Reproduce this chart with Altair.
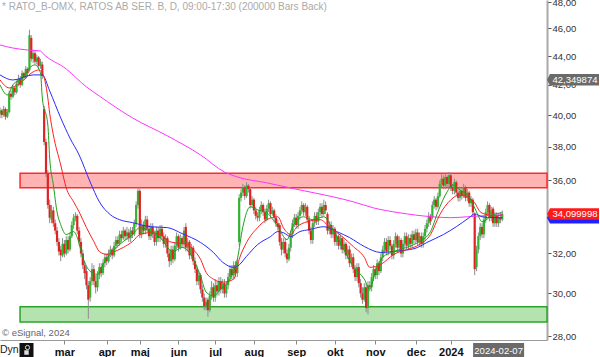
import altair as alt
import pandas as pd

FONT = "Liberation Sans"

# ---------------- data ----------------
title_text = "* RATO_B-OMX, RATOS AB SER. B, D, 09:00-17:30 (200000 Bars Back)"
months = ["mar", "apr", "maj", "jun", "jul", "aug", "sep", "okt", "nov", "dec", "2024"]
month_idx = [35, 58, 76, 97, 117, 138, 161, 182, 204, 226, 245]
y_ticks = [28, 30, 32, 34, 36, 38, 40, 42, 44, 46, 48]

open_ = [40.1, 40.3, 40.0, 40.4, 39.9, 40.2, 41.4, 41.2, 41.8, 41.5,
         42.1, 42.4, 42.0, 42.8, 42.5, 43.1, 43.0, 45.3, 43.8, 44.2,
         43.6, 43.9, 43.3, 43.4, 40.4, 38.3, 36.4, 34.6, 33.8, 34.3,
         33.6, 33.2, 32.6, 32.2, 31.9, 32.5, 32.0, 32.7, 32.2, 32.9,
         33.5, 33.9, 34.0, 33.2, 32.6, 32.0, 31.4, 31.1, 30.4, 29.8,
         30.6, 31.2, 30.6, 30.3, 30.9, 31.3, 31.0, 31.5, 31.8, 31.6,
         32.0, 32.2, 31.9, 32.4, 32.7, 32.5, 33.0, 32.8, 33.2, 32.9,
         33.1, 32.8, 33.2, 33.0, 33.6, 34.6, 35.4, 33.0, 33.5, 33.2,
         33.8, 33.3, 32.9, 33.4, 33.0, 32.6, 33.2, 32.8, 33.3, 32.9,
         32.5, 32.8, 32.0, 31.6, 32.2, 31.7, 32.4, 32.9, 32.3, 32.8,
         32.5, 33.4, 32.3, 32.6, 31.9, 32.3, 31.6, 31.2, 30.6, 30.9,
         30.2, 29.8, 29.4, 29.7, 29.2, 29.9, 30.3, 29.8, 30.4, 30.1,
         30.6, 30.2, 30.5, 30.0, 30.4, 30.8, 31.2, 30.9, 31.4, 31.0,
         32.6, 35.0, 35.3, 35.6, 35.1, 35.7, 35.5, 34.6, 34.9, 34.3,
         34.0, 33.9, 34.3, 34.6, 34.2, 33.8, 34.4, 34.7, 34.1, 34.3,
         33.9, 33.6, 33.5, 32.6, 32.2, 32.6, 32.0, 31.7, 32.3, 33.0,
         33.6, 33.9, 33.5, 34.0, 34.3, 34.6, 34.2, 34.5, 33.8, 33.2,
         32.7, 33.6, 34.0, 33.7, 34.2, 34.5, 34.1, 34.6, 34.1, 33.2,
         33.5, 33.0, 33.3, 32.6, 32.9, 32.4, 32.8, 32.2, 32.5, 31.9,
         32.2, 31.5, 31.8, 31.2, 30.8, 31.3, 30.5, 30.0, 29.7, 30.3,
         29.3, 30.4, 30.3, 30.8, 31.2, 30.9, 31.5, 31.1, 31.8, 32.2,
         32.6, 32.1, 32.7, 32.4, 31.9, 32.5, 32.9, 32.3, 32.7, 32.0,
         32.5, 32.9, 32.4, 32.8, 32.5, 33.0, 32.7, 33.1, 32.6, 32.9,
         32.5, 32.9, 33.3, 33.6, 34.0, 33.9, 34.6, 34.9, 34.5, 35.1,
         35.8, 36.1, 35.7, 36.2, 35.8, 36.3, 35.6, 35.4, 35.9, 35.3,
         35.0, 35.4, 35.1, 35.6, 35.0, 35.3, 34.7, 34.9, 34.1, 31.3,
         32.2, 32.9, 33.4, 33.0, 33.8, 34.2, 34.6, 33.9, 34.4, 33.6,
         34.0, 33.6, 33.9, 33.8]
high_ = [40.5, 40.4, 40.6, 40.5, 40.4, 41.6, 41.6, 42.0, 41.9, 42.3,
         42.7, 42.6, 43.0, 42.9, 43.3, 43.2, 45.9, 45.5, 44.4, 44.4,
         44.1, 44.0, 43.8, 43.6, 40.6, 38.5, 36.6, 34.9, 34.6, 34.5,
         33.8, 33.4, 32.8, 32.4, 32.8, 32.7, 32.9, 32.9, 33.1, 33.7,
         34.1, 34.2, 34.1, 33.4, 32.8, 32.2, 31.6, 31.3, 30.6, 30.8,
         31.5, 31.4, 30.9, 31.1, 31.5, 31.5, 31.7, 32.0, 32.0, 32.2,
         32.4, 32.3, 32.6, 32.9, 32.9, 33.2, 33.2, 33.4, 33.3, 33.4,
         33.3, 33.4, 33.4, 33.8, 34.8, 35.6, 35.5, 33.8, 33.7, 34.0,
         34.0, 33.5, 33.6, 33.6, 33.2, 33.4, 33.4, 33.5, 33.5, 33.1,
         33.0, 32.9, 32.2, 32.4, 32.4, 32.6, 33.1, 33.0, 33.0, 32.9,
         33.4, 33.6, 32.8, 32.7, 32.5, 32.4, 31.8, 31.4, 31.1, 31.0,
         30.4, 30.0, 29.8, 29.8, 30.1, 30.6, 30.5, 30.7, 30.6, 30.8,
         30.8, 30.7, 30.7, 30.6, 31.0, 31.4, 31.4, 31.6, 31.6, 31.7,
         35.2, 35.5, 35.8, 35.7, 35.9, 35.8, 35.6, 35.1, 35.0, 34.5,
         34.2, 34.5, 34.8, 34.7, 34.4, 34.6, 34.9, 34.8, 34.5, 34.4,
         34.1, 33.8, 33.6, 32.8, 32.8, 32.8, 32.2, 32.5, 33.2, 33.8,
         34.1, 34.1, 34.2, 34.5, 34.8, 34.7, 34.7, 34.6, 34.0, 33.4,
         33.8, 34.2, 34.2, 34.4, 34.7, 34.7, 34.9, 34.8, 34.2, 33.7,
         33.7, 33.5, 33.4, 33.1, 33.0, 33.0, 32.9, 32.7, 32.6, 32.4,
         32.4, 32.0, 32.0, 31.4, 31.5, 31.5, 30.7, 30.3, 30.5, 30.5,
         30.6, 30.6, 31.0, 31.4, 31.3, 31.7, 31.6, 32.0, 32.4, 32.8,
         32.8, 32.9, 32.9, 32.5, 32.7, 33.1, 33.0, 32.9, 32.8, 32.7,
         33.1, 33.1, 33.0, 33.0, 33.2, 33.2, 33.3, 33.3, 33.1, 33.1,
         33.1, 33.5, 33.8, 34.2, 34.1, 34.8, 35.1, 35.0, 35.3, 36.0,
         36.4, 36.3, 36.4, 36.3, 36.5, 36.4, 35.8, 36.1, 36.0, 35.5,
         35.6, 35.6, 35.8, 35.7, 35.5, 35.4, 35.1, 35.0, 34.2, 32.4,
         33.1, 33.6, 33.6, 34.0, 34.4, 34.8, 34.7, 34.5, 34.5, 34.2,
         34.2, 34.1, 34.2, 34.3]
low_ = [39.8, 39.8, 39.9, 39.7, 39.8, 40.1, 41.0, 41.1, 41.3, 41.4,
        41.9, 41.8, 41.9, 42.3, 42.4, 42.6, 42.9, 43.6, 43.5, 43.4,
        43.4, 43.1, 43.1, 42.4, 38.1, 36.2, 34.4, 33.6, 33.6, 33.4,
        33.0, 32.4, 31.9, 31.6, 31.8, 31.8, 31.9, 32.0, 32.1, 32.8,
        33.3, 33.7, 33.0, 32.4, 31.8, 31.2, 30.7, 30.2, 28.8, 29.6,
        30.4, 30.4, 30.0, 30.1, 30.7, 30.8, 30.9, 31.3, 31.4, 31.5,
        31.8, 31.7, 31.8, 32.2, 32.3, 32.4, 32.6, 32.7, 32.7, 32.7,
        32.6, 32.6, 32.8, 32.9, 33.4, 34.4, 32.8, 32.8, 33.0, 33.0,
        33.1, 32.7, 32.7, 32.8, 32.4, 32.4, 32.6, 32.6, 32.7, 32.3,
        32.3, 31.8, 31.3, 31.4, 31.5, 31.6, 32.2, 32.1, 32.2, 32.3,
        32.3, 32.1, 32.1, 31.7, 31.7, 31.4, 31.0, 30.4, 30.4, 30.0,
        29.6, 29.2, 29.2, 28.9, 29.1, 29.7, 29.6, 29.6, 29.9, 29.9,
        30.0, 30.0, 29.8, 29.8, 30.2, 30.6, 30.7, 30.7, 30.8, 30.8,
        32.4, 34.8, 35.1, 34.9, 35.0, 35.3, 34.4, 34.5, 34.1, 33.8,
        33.7, 33.7, 34.1, 34.0, 33.6, 33.7, 34.2, 33.9, 34.0, 33.7,
        33.4, 33.2, 32.4, 31.9, 32.0, 31.8, 31.5, 31.6, 32.1, 32.8,
        33.4, 33.3, 33.3, 33.8, 34.1, 34.0, 34.0, 33.6, 33.0, 32.5,
        32.5, 33.4, 33.5, 33.5, 34.0, 33.9, 34.0, 34.1, 33.0, 33.0,
        32.8, 32.8, 32.4, 32.4, 32.2, 32.2, 32.0, 32.0, 31.7, 31.7,
        31.3, 31.3, 31.0, 30.6, 30.6, 30.3, 29.8, 29.5, 29.6, 29.1,
        29.0, 30.1, 30.1, 30.6, 30.7, 30.7, 30.9, 31.0, 31.6, 32.0,
        31.9, 31.9, 32.2, 31.7, 31.7, 32.3, 32.1, 32.1, 31.8, 31.8,
        32.3, 32.2, 32.2, 32.3, 32.3, 32.5, 32.5, 32.4, 32.4, 32.3,
        32.3, 32.7, 33.1, 33.4, 33.5, 33.8, 34.4, 34.3, 34.4, 35.0,
        35.6, 35.5, 35.5, 35.6, 35.6, 35.4, 35.2, 35.2, 35.1, 34.8,
        34.8, 34.9, 35.0, 34.8, 34.8, 34.5, 34.5, 34.0, 30.9, 31.1,
        32.0, 32.7, 32.8, 32.8, 33.6, 34.0, 33.7, 33.7, 33.4, 33.4,
        33.4, 33.4, 33.6, 33.7]
close_ = [40.3, 40.0, 40.4, 39.9, 40.2, 41.4, 41.2, 41.8, 41.5, 42.1,
          42.4, 42.0, 42.8, 42.5, 43.1, 42.8, 45.5, 43.8, 44.2, 43.6,
          43.9, 43.3, 43.6, 42.6, 38.3, 36.4, 34.6, 33.9, 34.3, 33.6,
          33.2, 32.6, 32.1, 31.9, 32.5, 32.0, 32.7, 32.2, 32.9, 33.5,
          33.9, 34.0, 33.2, 32.6, 32.0, 31.4, 31.0, 30.4, 29.7, 30.6,
          31.2, 30.6, 30.3, 30.9, 31.3, 31.0, 31.5, 31.8, 31.6, 32.0,
          32.2, 31.9, 32.4, 32.7, 32.5, 33.0, 32.8, 33.2, 32.9, 33.1,
          32.8, 33.2, 33.0, 33.6, 34.6, 35.4, 33.0, 33.5, 33.2, 33.8,
          33.3, 32.9, 33.4, 33.0, 32.6, 33.2, 32.8, 33.3, 32.9, 32.5,
          32.8, 32.0, 31.6, 32.2, 31.7, 32.4, 32.9, 32.3, 32.8, 32.5,
          33.2, 32.3, 32.6, 31.9, 32.3, 31.6, 31.2, 30.6, 30.9, 30.2,
          29.8, 29.4, 29.6, 29.2, 29.9, 30.3, 29.8, 30.4, 30.1, 30.6,
          30.2, 30.5, 30.0, 30.4, 30.8, 31.2, 30.9, 31.4, 31.0, 31.5,
          35.0, 35.3, 35.6, 35.1, 35.7, 35.5, 34.6, 34.9, 34.3, 34.0,
          33.9, 34.3, 34.6, 34.2, 33.8, 34.4, 34.7, 34.1, 34.3, 33.9,
          33.6, 33.4, 32.6, 32.2, 32.6, 32.0, 31.7, 32.3, 33.0, 33.6,
          33.9, 33.5, 34.0, 34.3, 34.6, 34.2, 34.5, 33.8, 33.2, 32.7,
          33.6, 34.0, 33.7, 34.2, 34.5, 34.1, 34.6, 34.3, 33.2, 33.5,
          33.0, 33.3, 32.6, 32.9, 32.4, 32.8, 32.2, 32.5, 31.9, 32.2,
          31.5, 31.8, 31.2, 30.8, 31.3, 30.5, 30.0, 29.7, 30.3, 29.3,
          30.4, 30.3, 30.8, 31.2, 30.9, 31.5, 31.1, 31.8, 32.2, 32.6,
          32.1, 32.7, 32.4, 31.9, 32.5, 32.9, 32.3, 32.7, 32.0, 32.5,
          32.9, 32.4, 32.8, 32.5, 33.0, 32.7, 33.1, 32.6, 32.9, 32.5,
          32.9, 33.3, 33.6, 34.0, 33.7, 34.6, 34.9, 34.5, 35.1, 35.8,
          36.1, 35.7, 36.2, 35.8, 36.3, 35.6, 35.4, 35.9, 35.3, 35.0,
          35.4, 35.1, 35.6, 35.0, 35.3, 34.7, 34.9, 34.2, 31.2, 32.2,
          32.9, 33.4, 33.0, 33.8, 34.2, 34.6, 33.9, 34.3, 33.6, 34.0,
          33.6, 33.9, 33.8, 34.1]

# moving averages (bar index, value)
ma_mag_idx = [0, 7, 15, 22, 23, 36, 47, 54, 72, 91, 109, 122, 129, 145, 163, 181,
              192, 203, 217, 235, 245, 254, 262, 273]
ma_mag = [44.79, 44.57, 44.43, 44.36, 44.22, 43.09, 41.86, 41.25, 39.82, 38.68,
          37.51, 36.49, 36.20, 35.86, 35.45, 35.06, 34.78, 34.44, 34.17, 33.95,
          33.90, 33.95, 34.00, 34.06]
ma_blue_idx = [0, 7, 18, 23, 27, 33, 38, 43, 49, 54, 60, 65, 72, 82, 91, 99, 109,
               116, 121, 127, 129, 134, 140, 147, 151, 154, 158, 163, 168, 176,
               183, 190, 198, 207, 214, 219, 227, 232, 241, 248, 255, 258, 262,
               268, 273]
ma_blue = [42.68, 42.33, 42.68, 42.68, 41.59, 39.82, 38.55, 37.51, 35.91, 34.78,
           34.06, 33.79, 33.63, 33.41, 33.36, 33.04, 32.57, 32.05, 31.55, 31.29,
           31.34, 31.85, 32.46, 32.88, 33.15, 33.09, 32.88, 33.15, 33.25, 33.41,
           33.15, 32.83, 32.36, 32.05, 32.10, 32.15, 32.31, 32.57, 32.99, 33.41,
           33.90, 34.11, 33.95, 33.90, 33.90]
ma_red_idx = [0, 5, 11, 18, 21, 23, 26, 27, 29, 33, 36, 40, 43, 47, 51, 54, 58,
              61, 67, 72, 76, 82, 87, 92, 98, 102, 105, 109, 112, 116, 121, 127,
              130, 134, 140, 145, 151, 154, 158, 161, 167, 174, 179, 186, 192,
              198, 201, 207, 214, 221, 228, 234, 239, 245, 250, 255, 258, 261,
              265, 270, 273]
ma_red = [42.34, 41.79, 42.13, 42.89, 43.02, 42.82, 41.12, 40.12, 38.74, 36.91,
          35.57, 34.78, 34.22, 33.36, 32.62, 32.10, 31.95, 32.05, 32.31, 32.62,
          32.99, 33.09, 32.99, 32.62, 32.52, 32.46, 32.20, 31.70, 31.04, 30.70,
          30.55, 30.70, 31.70, 32.57, 33.36, 33.79, 33.95, 33.36, 32.99, 33.36,
          33.68, 33.79, 33.41, 32.88, 32.36, 31.80, 31.29, 31.44, 31.95, 32.20,
          32.46, 32.99, 34.06, 34.89, 35.17, 35.00, 34.72, 34.22, 34.06, 34.00,
          34.06]
ma_green_idx = [0, 4, 7, 13, 16, 19, 22, 23, 26, 27, 29, 31, 33, 36, 40, 42, 45,
                49, 53, 56, 61, 67, 72, 76, 80, 87, 94, 99, 103, 109, 112, 116,
                120, 125, 129, 132, 136, 140, 145, 151, 156, 159, 165, 170, 176,
                181, 186, 192, 198, 201, 204, 208, 214, 221, 228, 234, 238, 243,
                246, 250, 255, 259, 262, 268, 273]
ma_green = [42.0, 41.32, 42.0, 42.54, 43.16, 43.37, 42.82, 41.12, 39.37, 37.33,
            35.74, 34.22, 33.52, 32.99, 33.15, 32.83, 31.80, 31.09, 30.94, 31.44,
            32.10, 32.62, 32.99, 33.36, 33.25, 32.83, 32.10, 32.31, 32.05, 30.85,
            30.07, 29.88, 30.21, 30.70, 31.70, 33.41, 34.50, 34.33, 34.17, 33.41,
            32.72, 33.41, 33.95, 33.79, 33.95, 33.25, 32.36, 31.34, 30.70, 30.21,
            31.09, 31.80, 32.10, 32.31, 32.62, 33.15, 34.22, 35.34, 35.74, 35.45,
            35.06, 34.22, 33.68, 34.06, 34.17]

red_zone = [35.58, 36.42]
green_zone = [28.65, 29.36]
zone_start_idx = 10.9
marker_price = 42.349874
marker_label = "42,349874"
last_price = 34.099998
last_label = "34,099998"
date_idx = 271
date_label = "2024-02-07"

# ---------------- chart ----------------
X_MAX = 297.3
W, H = 547, 340
xs = alt.Scale(domain=[0, X_MAX], nice=False, zero=False, padding=0)
ys = alt.Scale(type="log", domain=[27.83, 48.16], nice=False, padding=0)

month_js = "[" + ",".join("'%s'" % m for m in months) + "]"
idx_js = "[" + ",".join(str(v) for v in month_idx) + "]"
x_axis = alt.Axis(values=month_idx, title=None, grid=False,
                  labelExpr=f"{month_js}[indexof({idx_js}, datum.value)]",
                  tickSize=4, tickColor="#888", domainColor="#9a9a9a", domainWidth=1,
                  labelFont=FONT, labelFontWeight="bold", labelFontSize=11,
                  labelColor="#111", labelPadding=2, labelFlush=False,
                  labelOverlap=False)
# the 34,00 label sits fully under the last-price tag in the picture
y_axis = alt.Axis(orient="right", values=y_ticks, title=None, grid=False,
                  labelExpr="datum.value == 34 ? '' : replace(format(datum.value, '.2f'), '.', ',')",
                  tickSize=4, tickColor="#555", domainColor="#aaaaaa", domainWidth=2,
                  labelFont=FONT, labelFontSize=9.5, labelColor="#333",
                  labelPadding=1, labelFlush=False, labelOverlap=False)


def X(field):
    return alt.X(field, scale=xs, axis=x_axis, title=None)


def Y(field):
    return alt.Y(field, scale=ys, axis=y_axis, title=None)


candles = pd.DataFrame({"i": list(range(len(close_))), "o": open_, "h": high_,
                        "l": low_, "c": close_})

wicks = alt.Chart(candles).mark_rule(color="#8c8c8c", strokeWidth=1).encode(
    x=X("i:Q"), y=Y("l:Q"), y2="h:Q",
)

bodies = alt.Chart(candles).transform_calculate(
    col="datum.c >= datum.o ? '#2fb52f' : '#e02222'"
).mark_bar(size=2.2, orient="vertical").encode(
    x=X("i:Q"), y=Y("o:Q"), y2="c:Q",
    color=alt.Color("col:N", scale=None),
)


def zone(rng, fill, stroke):
    df = pd.DataFrame({"x0": [zone_start_idx], "x1": [X_MAX], "lo": [rng[0]], "hi": [rng[1]]})
    return alt.Chart(df).mark_rect(fill=fill, stroke=stroke, strokeWidth=1.5).encode(
        x=X("x0:Q"), x2="x1:Q", y=Y("lo:Q"), y2="hi:Q")


def ma(idx, vals, color):
    df = pd.DataFrame({"i": idx, "v": vals})
    return alt.Chart(df).mark_line(color=color, strokeWidth=1, interpolate="monotone").encode(
        x=X("i:Q"), y=Y("v:Q"))


one = pd.DataFrame({"a": [0]})


def pix_text(text, x, y, size, color, weight="normal", align="left"):
    return alt.Chart(one).mark_text(text=text, font=FONT, fontSize=size, color=color,
                                    fontWeight=weight, align=align, baseline="middle").encode(
        x=alt.value(x), y=alt.value(y))


tag_shape = "M -1.08 0 L -0.96 -0.23 L 1 -0.23 L 1 0.23 L -0.96 0.23 Z"


def price_tag(price, label, fill, text_color="white", show_text=True):
    df = pd.DataFrame({"v": [price], "t": [label]})
    box = alt.Chart(df).mark_point(shape=tag_shape, size=2500, filled=True, fill=fill,
                                   opacity=1, strokeWidth=0).encode(
        x=alt.value(574), y=Y("v:Q"))
    if not show_text:
        return box
    txt = alt.Chart(df).mark_text(font=FONT, fontSize=9.5, color=text_color, align="center",
                                  baseline="middle", dx=1).encode(
        x=alt.value(574), y=Y("v:Q"), text="t:N")
    return box + txt


date_df = pd.DataFrame({"i": [date_idx], "t": [date_label]})
date_box = alt.Chart(date_df).mark_point(
    shape="M -1 -0.29 L 1 -0.29 L 1 0.29 L -1 0.29 Z", size=2601, filled=True,
    fill="#6a6a6a", opacity=1, strokeWidth=0).encode(
    x=X("i:Q"), y=alt.value(350.5))
date_txt = alt.Chart(date_df).mark_text(font=FONT, fontSize=9.5, color="white",
                                        align="center", baseline="middle").encode(
    x=X("i:Q"), y=alt.value(350.5), text="t:N")

lock_box = alt.Chart(one).mark_point(shape="square", size=196, filled=True, fill="#111",
                                     opacity=1, strokeWidth=0).encode(
    x=alt.value(26.5), y=alt.value(350))
lock_body = alt.Chart(one).mark_point(shape="square", size=20, filled=True, fill="#ddd",
                                      opacity=1, strokeWidth=0).encode(
    x=alt.value(26.5), y=alt.value(352.5))
lock_ring = alt.Chart(one).mark_point(shape="circle", size=18, filled=False, stroke="#ddd",
                                      strokeWidth=1, opacity=1).encode(
    x=alt.value(27.5), y=alt.value(347.5))

chart = alt.layer(
    zone(red_zone, "#ffb3b3", "#ff2a2a"),
    zone(green_zone, "#b5e3b0", "#2aa52a"),
    wicks,
    bodies,
    ma(ma_mag_idx, ma_mag, "#ff33ff"),
    ma(ma_blue_idx, ma_blue, "#2a2aff"),
    ma(ma_red_idx, ma_red, "#ff2020"),
    ma(ma_green_idx, ma_green, "#1e9e1e"),
    pix_text(title_text, 2, 7, 10, "#aaaaaa"),
    pix_text("© eSignal, 2024", 2, 333, 9.5, "#666666"),
    pix_text("Dyn", 0, 350, 10.5, "#222222"),
    lock_box, lock_body, lock_ring,
    price_tag(marker_price, marker_label, "#6a6a6a"),
    price_tag(ma_blue[-1], "", "#2020ff", show_text=False),
    price_tag(last_price, last_label, "#ff1a1a"),
    date_box, date_txt,
).properties(
    width=W, height=H,
    padding={"left": 0, "top": 0, "right": 53, "bottom": 17},
    autosize=alt.AutoSizeParams(type="none"),
).configure_view(stroke=None)

chart.save("out.html", embed_options={"renderer": "svg", "actions": False})
